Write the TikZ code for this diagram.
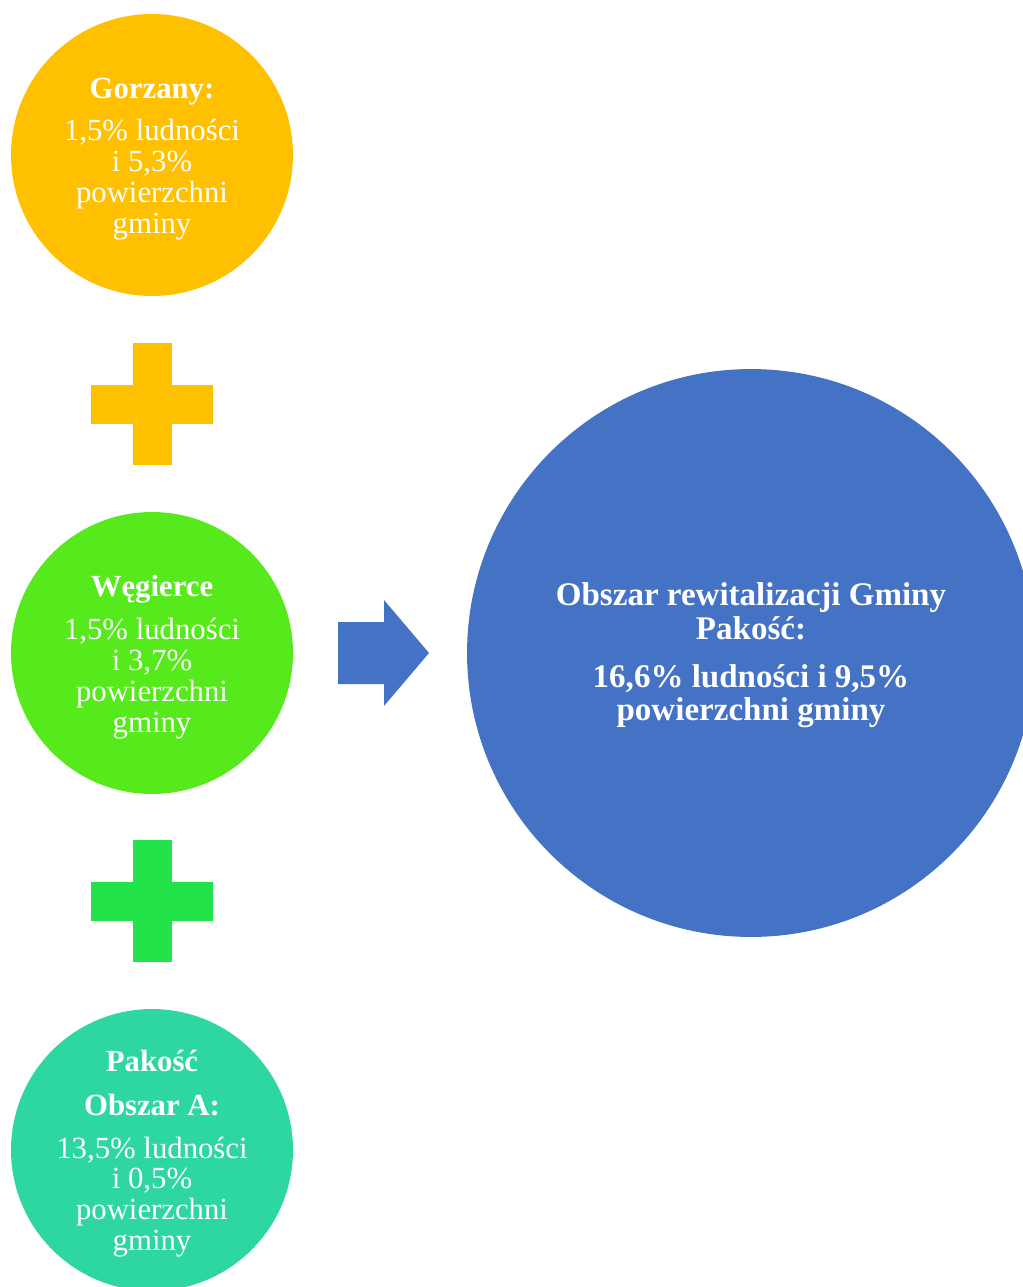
\documentclass[tikz,border=0pt]{standalone}
\usepackage{fontspec}
\setmainfont{Liberation Serif}
\usetikzlibrary{calc}
\definecolor{gold}{HTML}{FFC000}
\definecolor{lime}{HTML}{56EA1C}
\definecolor{plusgreen}{HTML}{22E34A}
\definecolor{teal}{HTML}{2ED6A2}
\definecolor{steel}{HTML}{4472C4}
\def\plussign[#1](#2){\fill[#1] ($(#2)+(-19.5,-61)$) rectangle ($(#2)+(19.5,61)$);
	\fill[#1] ($(#2)+(-61,-19.5)$) rectangle ($(#2)+(61,19.5)$);}
\tikzset{
	area/.style={circle, inner sep=0pt, minimum size=5.64cm},
	areatext/.style={text=white, align=center, inner sep=0pt,
		font=\fontsize{17.5}{17.6}\selectfont},
	total/.style={circle, inner sep=0pt, minimum size=11.36cm},
	totaltext/.style={text=white, align=center, inner sep=0pt,
		font=\bfseries\fontsize{18.8}{19}\selectfont}
}

\begin{document}
\begin{tikzpicture}[x=0.02cm, y=-0.02cm]
			%%%%% START %%%%%
			\useasboundingbox (0, 0) rectangle (1023, 1287);
			\clip (0, 0) rectangle (1023, 1287);
			
			\node[area, fill=gold] (gorzany) at (152, 155) {};
			\node[areatext] (gorzanytxt) at ([yshift=-0.08cm]gorzany.center) {\textbf{Gorzany:}\\[6.8pt]1,5\% ludności\\i 5,3\%\\powierzchni\\gminy};
			\plussign[gold](152, 404)
			
			\node[area, fill=lime] (wegierce) at (152, 653) {};
			\node[areatext] (wegiercetxt) at ([yshift=-0.08cm]wegierce.center) {\textbf{Węgierce}\\[6.8pt]1,5\% ludności\\i 3,7\%\\powierzchni\\gminy};
			\plussign[plusgreen](152, 901)
			
			\node[area, fill=teal] (pakosc) at (152, 1150) {};
			\node[areatext] (pakosctxt) at ([yshift=-0.08cm]pakosc.center) {\textbf{Pakość}\\[7pt]\textbf{Obszar A:}\\[6.8pt]13,5\% ludności\\i 0,5\%\\powierzchni\\gminy};
			
			\fill[steel] (338, 622) -- (384, 622) -- (384, 600) -- (429, 653) -- (384, 706) -- (384, 684) -- (338, 684) -- cycle;
			
			\node[total, fill=steel] (obszar) at (751, 653) {};
			\node[totaltext] (obszartxt) at ([yshift=-0.05cm]obszar.center) {Obszar rewitalizacji Gminy\\Pakość:\\[8.5pt]16,6\% ludności i 9,5\%\\powierzchni gminy};
			
			%%%%% END %%%%%
\end{tikzpicture}
\end{document}
